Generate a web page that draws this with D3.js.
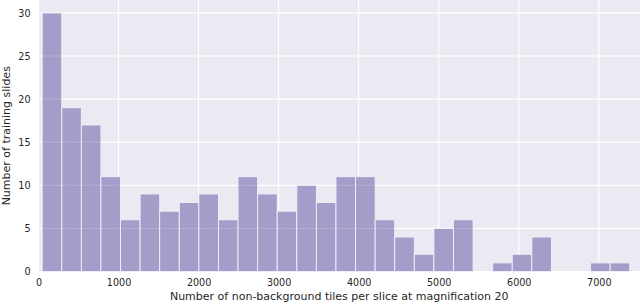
<!DOCTYPE html>
<html>
<head>
<meta charset="utf-8">
<script src="https://cdn.jsdelivr.net/npm/d3@7"></script>
<style>
  html, body { margin: 0; padding: 0; background: #fff; }
  svg { display: block; font-family: "DejaVu Sans", sans-serif; }
</style>
</head>
<body>
<script>
// histogram counts, 30 equal bins
const counts = [30, 19, 17, 11, 6, 9, 7, 8, 9, 6,
                11, 9, 7, 10, 8, 11, 11, 6, 4, 2,
                5, 6, 0, 1, 2, 4, 0, 0, 1, 1];
const binMin = 46, binMax = 7387;
const xTicks = [0, 1000, 2000, 3000, 4000, 5000, 6000, 7000];
const yTicks = [0, 5, 10, 15, 20, 25, 30];
const xLabel = "Number of non-background tiles per slice at magnification 20";
const yLabel = "Number of training slides";

const W = 640, H = 306,
      plot = {left: 38.5, right: 640, top: 0, bottom: 271.5};

const x = d3.scaleLinear().domain([0, 7515]).range([plot.left, plot.right]),
      y = d3.scaleLinear().domain([0, 31.5]).range([plot.bottom, plot.top]);

const bw = (binMax - binMin) / counts.length;
const bins = counts.map((c, i) => ({x0: binMin + i * bw, x1: binMin + (i + 1) * bw, n: c}));

const svg = d3.select("body").append("svg")
    .attr("width", W).attr("height", H);

svg.append("rect")
    .attr("x", plot.left).attr("y", plot.top)
    .attr("width", plot.right - plot.left).attr("height", plot.bottom - plot.top)
    .attr("fill", "#eaeaf2");

// grid
svg.append("g").selectAll("line").data(xTicks).join("line")
    .attr("x1", d => x(d)).attr("x2", d => x(d))
    .attr("y1", plot.top).attr("y2", plot.bottom)
    .attr("stroke", "#fff").attr("stroke-width", 1.2);
svg.append("g").selectAll("line").data(yTicks).join("line")
    .attr("x1", plot.left).attr("x2", plot.right)
    .attr("y1", d => y(d)).attr("y2", d => y(d))
    .attr("stroke", "#fff").attr("stroke-width", 1.2);

// bars
svg.append("g").selectAll("rect").data(bins.filter(b => b.n > 0)).join("rect")
    .attr("x", d => x(d.x0)).attr("width", d => x(d.x1) - x(d.x0))
    .attr("y", d => y(d.n)).attr("height", d => y(0) - y(d.n))
    .attr("fill", "#a59dc9")
    .attr("stroke", "#f2f0f8").attr("stroke-width", 0.9);

// faint dotted grid showing through bars
svg.append("g").selectAll("line").data(yTicks.slice(1)).join("line")
    .attr("x1", plot.left).attr("x2", plot.right)
    .attr("y1", d => y(d)).attr("y2", d => y(d))
    .attr("stroke", "#fff").attr("stroke-opacity", 0.35)
    .attr("stroke-dasharray", "1.5,1.5");

// axes
const xAxis = svg.append("g")
    .attr("transform", `translate(0,${plot.bottom})`)
    .call(d3.axisBottom(x).tickValues(xTicks).tickFormat(d3.format("d")).tickSize(0).tickPadding(8));
const yAxis = svg.append("g")
    .attr("transform", `translate(${plot.left},0)`)
    .call(d3.axisLeft(y).tickValues(yTicks).tickSize(0).tickPadding(8));
[xAxis, yAxis].forEach(a => {
  a.select(".domain").remove();
  a.selectAll("text").attr("fill", "#262626").style("font-size", "9.6px")
    .style("font-family", "DejaVu Sans, sans-serif");
});

svg.append("text")
    .attr("x", (plot.left + plot.right) / 2).attr("y", 300)
    .attr("text-anchor", "middle").attr("fill", "#262626")
    .style("font-size", "11px").text(xLabel);
svg.append("text")
    .attr("transform", `translate(10,${(plot.top + plot.bottom) / 2}) rotate(-90)`)
    .attr("text-anchor", "middle").attr("fill", "#262626")
    .style("font-size", "11px").text(yLabel);
</script>
</body>
</html>
